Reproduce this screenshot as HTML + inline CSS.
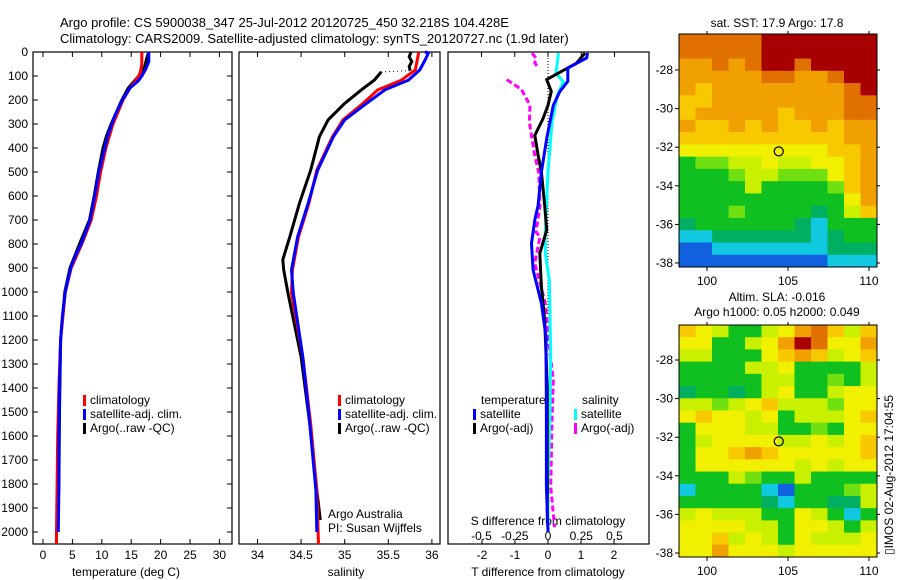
<!DOCTYPE html>
<html><head><meta charset="utf-8"><style>
html,body{margin:0;padding:0;background:#fff;}
svg{display:block;font-family:"Liberation Sans",sans-serif;}
text{font-size:12px;fill:#000;}
</style></head><body>
<svg id="fig" width="900" height="580" viewBox="0 0 900 580" xmlns="http://www.w3.org/2000/svg">
<text x="60" y="27" style="font-size:13px">Argo profile: CS 5900038_347 25-Jul-2012 20120725_450 32.218S 104.428E</text>
<text x="60" y="43" style="font-size:13px">Climatology: CARS2009. Satellite-adjusted climatology: synTS_20120727.nc (1.9d later)</text>
<g id="gT"></g>
<g id="gS"></g>
<g id="gD"></g>
<g id="gM1"></g>
<g id="gM2"></g>
<text x="777" y="27" text-anchor="middle">sat. SST: 17.9 Argo: 17.8</text>
<text x="777" y="301" text-anchor="middle">Altim. SLA: -0.016</text>
<text x="777" y="316" text-anchor="middle">Argo h1000: 0.05 h2000: 0.049</text>
<text transform="translate(893,555) rotate(-90)">▯IMOS 02-Aug-2012 17:04:55</text>
</svg>
<script>
// ---------- profile data (depth, value) ----------
const tempClimDepth = [0,50,80,100,150,200,300,400,500,600,700,800,900,1000,1200,1400,1600,1800,2000,2050];
const tempClimVal   = [16.8,16.8,16.6,16.3,14.8,13.6,11.9,10.7,9.8,9.1,8.2,6.6,4.8,3.8,3.0,2.7,2.5,2.4,2.3,2.3];
const tempSatDepth  = [0,40,70,100,120,150,200,250,300,350,400,500,600,700,800,850,900,1000,1100,1200,1400,1600,1800,2000];
const tempSatVal    = [18.0,18.0,17.5,16.8,16.2,14.8,13.5,12.5,11.7,11.0,10.5,9.5,8.8,8.0,6.5,5.5,4.7,3.8,3.3,3.0,2.8,2.7,2.7,2.6];
const tempArgoDepth = [5,30,60,100,130,150,200,300,350,400,500,600,700,800,900,1000,1200,1500,1800,1950];
const tempArgoVal   = [17.9,17.6,17.3,16.3,15.2,14.5,13.4,11.6,10.8,10.2,9.4,8.7,7.9,6.2,4.6,3.7,3.0,2.8,2.7,2.5];

const salClimDepth = [0,75,117,158,214,283,353,492,631,770,908,1005,1270,1550,1826,2050];
const salClimVal   = [35.85,35.81,35.65,35.38,35.21,34.98,34.86,34.68,34.59,34.47,34.40,34.39,34.52,34.61,34.68,34.70];
const salSatDepth  = [0,4,35,75,117,158,214,283,353,492,631,770,908,1005,1270,1550,1826,2000];
const salSatVal    = [35.92,35.96,35.92,35.86,35.73,35.46,35.25,35.0,34.87,34.69,34.58,34.46,34.39,34.41,34.52,34.60,34.67,34.68];
const salArgoTopDepth = [0,20,40,60,78];
const salArgoTopVal   = [35.76,35.74,35.77,35.74,35.75];
const salArgoDepth = [83,117,158,214,283,353,492,631,770,866,908,1005,1270,1550,1826,1950];
const salArgoVal   = [35.42,35.34,35.19,35.0,34.81,34.71,34.61,34.48,34.37,34.29,34.30,34.35,34.50,34.60,34.68,34.72];

const dTSatDepth = [4,25,67,122,164,222,361,500,639,700,797,908,1047,1186,1500,1811,2000];
const dTSatVal   = [1.2,1.17,0.6,0.6,0.36,0.16,-0.04,-0.2,-0.3,-0.4,-0.5,-0.45,-0.2,-0.06,-0.05,-0.05,0.0];
const dTArgoDepth = [4,46,115,164,222,278,347,430,500,639,742,839,978,1117,1400,1700,1950];
const dTArgoVal   = [1.12,0.87,-0.04,0.1,0.0,-0.15,-0.4,-0.3,-0.2,-0.1,-0.04,-0.25,-0.2,-0.1,-0.02,-0.02,-0.02];
const dSSatDepth = [4,46,88,125,180,292,500,750,839,950,1256,1500,1811,2000];
const dSSatVal   = [0.078,0.07,0.06,0.115,0.07,0.03,0.0,-0.02,-0.02,0.01,0.02,0.015,0.0,0.0];
const dSArgoTopDepth = [5,25,45,60];
const dSArgoTopVal   = [-0.12,-0.09,-0.1,-0.08];
const dSArgoDepth = [115,156,222,292,361,430,500,639,750,770,880,1047,1256,1366,1533,1811,1980];
const dSArgoVal   = [-0.31,-0.2,-0.135,-0.14,-0.12,-0.1,-0.07,-0.06,-0.09,-0.06,-0.1,-0.02,0.015,0.04,0.03,0.02,0.05];

const depthTicks = [0,100,200,300,400,500,600,700,800,900,1000,1100,1200,1300,1400,1500,1600,1700,1800,1900,2000];
const tempTicks = [0,5,10,15,20,25,30];
const salTicks = [34,34.5,35,35.5,36];
const dTTicks = [-2,-1,0,1,2];
const dSTicks = [-0.5,-0.25,0,0.25,0.5];
const dSTickLabels = ["-0.5","-0.25","0","0.25","0.5"];

// ---------- map data (colour index 0..10, rows north->south, cols west->east) ----------
const sstGrid = [
[9,9,9,9,9,10,10,10,10,10,10,10],
[9,9,9,9,9,10,10,10,10,10,10,10],
[8,8,9,8,9,10,10,9,10,10,10,10],
[8,8,8,8,8,9,9,8,8,9,10,10],
[8,7,8,8,8,8,8,8,8,8,9,10],
[7,7,8,8,8,8,8,8,8,8,9,9],
[7,8,8,8,8,8,7,8,8,8,9,9],
[8,7,7,8,7,8,7,7,8,7,8,8],
[7,7,7,7,7,7,7,7,7,7,8,8],
[6,6,6,6,6,6,6,6,6,7,7,8],
[3,4,4,5,5,6,5,5,6,6,7,8],
[3,3,3,4,5,5,4,4,4,6,7,8],
[3,3,3,3,5,3,3,3,3,4,7,8],
[3,3,3,3,3,3,3,3,3,3,6,8],
[3,3,3,4,3,3,3,3,2,3,5,7],
[2,3,3,3,3,3,3,2,1,3,3,3],
[1,1,2,2,2,2,2,2,1,2,3,3],
[0,0,1,1,1,1,1,1,1,2,2,2],
[0,0,0,0,0,0,0,0,0,1,1,1]];
const slaGrid = [
[7,6,5,3,3,5,6,8,9,7,5,7],
[6,6,3,3,5,6,8,10,9,6,6,8],
[5,5,3,3,3,6,7,8,7,5,6,7],
[3,3,3,3,5,5,6,3,3,3,3,5],
[3,3,3,3,3,5,5,3,3,4,3,5],
[2,3,3,2,3,5,6,3,3,5,6,6],
[5,5,4,5,6,7,5,5,5,4,6,6],
[6,7,6,6,5,6,3,5,5,5,6,7],
[3,6,6,6,5,5,3,3,4,3,6,6],
[3,5,6,6,6,6,5,5,6,5,6,7],
[3,6,6,7,8,7,6,6,6,6,6,7],
[3,6,6,6,6,6,6,5,6,5,6,6],
[3,3,3,5,4,3,3,5,3,3,3,3],
[1,3,3,3,3,1,0,3,3,3,4,5],
[3,3,3,3,3,2,1,3,3,2,2,5],
[5,6,5,5,5,3,3,6,5,3,1,3],
[6,6,6,6,5,5,3,6,6,5,3,5],
[6,6,7,5,6,5,3,6,5,5,5,6],
[6,6,8,6,6,6,5,6,6,6,6,6]];
const colorScale = ["#1060e0","#10c8e0","#00b060","#10c020","#70e010","#c8f000","#f0f000","#f8c800","#f0a000","#e07000","#a80000"];
const lonTicks = [100,105,110];
const latTicks = [-28,-30,-32,-34,-36,-38];
const floatLon = 104.428, floatLat = -32.218;

// ---------- helpers ----------
const NS = "http://www.w3.org/2000/svg";
function el(tag, attrs, parent, txt){
  const e = document.createElementNS(NS, tag);
  for (const k in attrs) e.setAttribute(k, attrs[k]);
  if (txt !== undefined) e.textContent = txt;
  parent.appendChild(e);
  return e;
}
const yD = d => 52 + d * 0.24;
const xT = t => 43 + t * 5.88;
const xS = s => 257.5 + (s - 34) * 87.2;
const xDT = v => 548 + v * 33;
const xDS = v => 548 + v * 133;

function line(parent, depths, vals, xf, color, name, dash){
  const pts = depths.map((d,i) => xf(vals[i]).toFixed(1) + "," + yD(d).toFixed(1)).join(" ");
  const p = el("polyline", {points: pts, fill: "none", stroke: color, "stroke-width": 3}, parent);
  if (dash) p.setAttribute("stroke-dasharray", dash);
  
  
}
function frame(parent, x0, x1, name){
  const r = el("rect", {x: x0, y: 52, width: x1 - x0, height: 492, fill: "none", stroke: "#000", "stroke-width": 1.2}, parent);
  
  
}
function legend(parent, x, y, items, name){
  items.forEach((it, i) => {
    const m = el("rect", {x: x, y: y + i * 14 - 9, width: 3, height: 11, fill: it[1]}, parent);
    
    
    const t = el("text", {x: x + 7, y: y + i * 14}, parent, it[0]);
    
    
  });
}

// ---------- temperature panel ----------
const gT = document.getElementById("gT");
frame(gT, 33, 232, "temperature-frame");
depthTicks.forEach(d => {
  const t = el("text", {x: 28, y: yD(d) + 4, "text-anchor": "end"}, gT, String(d));
  
  
  el("line", {x1: 33, x2: 38, y1: yD(d), y2: yD(d), stroke: "#000"}, gT);
  el("line", {x1: 227, x2: 232, y1: yD(d), y2: yD(d), stroke: "#000"}, gT);
});
tempTicks.forEach(v => {
  el("line", {x1: xT(v), x2: xT(v), y1: 544, y2: 539, stroke: "#000"}, gT);
  el("line", {x1: xT(v), x2: xT(v), y1: 52, y2: 57, stroke: "#000"}, gT);
  const t = el("text", {x: xT(v), y: 559, "text-anchor": "middle"}, gT, String(v));
  
  
});
const tl = el("text", {x: 126, y: 576, "text-anchor": "middle"}, gT, "temperature (deg C)");


line(gT, tempArgoDepth, tempArgoVal, xT, "#000", "temperature-argo-line");
line(gT, tempClimDepth, tempClimVal, xT, "#f00", "temperature-climatology-line");
line(gT, tempSatDepth, tempSatVal, xT, "#00f", "temperature-satellite-line");
legend(gT, 83, 404, [["climatology","#f00"],["satellite-adj. clim.","#00f"],["Argo(..raw -QC)","#000"]], "temperature-legend");

// ---------- salinity panel ----------
const gS = document.getElementById("gS");
frame(gS, 239, 440, "salinity-frame");
salTicks.forEach(v => {
  el("line", {x1: xS(v), x2: xS(v), y1: 544, y2: 539, stroke: "#000"}, gS);
  el("line", {x1: xS(v), x2: xS(v), y1: 52, y2: 57, stroke: "#000"}, gS);
  const t = el("text", {x: xS(v), y: 559, "text-anchor": "middle"}, gS, String(v));
  
  
});
const sl = el("text", {x: 346, y: 576, "text-anchor": "middle"}, gS, "salinity");


el("line", {x1: xS(salArgoTopVal[4]), y1: yD(78), x2: xS(salArgoVal[0]), y2: yD(83), stroke: "#000", "stroke-dasharray": "1,3"}, gS);
line(gS, salArgoTopDepth, salArgoTopVal, xS, "#000", "salinity-argo-top-line");
line(gS, salArgoDepth, salArgoVal, xS, "#000", "salinity-argo-line");
line(gS, salClimDepth, salClimVal, xS, "#f00", "salinity-climatology-line");
line(gS, salSatDepth, salSatVal, xS, "#00f", "salinity-satellite-line");
legend(gS, 338, 404, [["climatology","#f00"],["satellite-adj. clim.","#00f"],["Argo(..raw -QC)","#000"]], "salinity-legend");
const a1 = el("text", {x: 328, y: 518}, gS, "Argo Australia");


const a2 = el("text", {x: 328, y: 532}, gS, "PI: Susan Wijffels");



// ---------- difference panel ----------
const gD = document.getElementById("gD");
frame(gD, 448, 649, "difference-frame");
el("line", {x1: 548, x2: 548, y1: 52, y2: yD(1100), stroke: "#000", "stroke-dasharray": "1,2"}, gD);
dTTicks.forEach(v => {
  el("line", {x1: xDT(v), x2: xDT(v), y1: 544, y2: 539, stroke: "#000"}, gD);
  const t = el("text", {x: xDT(v), y: 559, "text-anchor": "middle"}, gD, String(v));
  
  
});
dSTicks.forEach((v, i) => {
  el("line", {x1: xDS(v), x2: xDS(v), y1: 52, y2: 57, stroke: "#000"}, gD);
  const t = el("text", {x: xDS(v), y: 540, "text-anchor": "middle"}, gD, dSTickLabels[i]);
  
  
});
const dl = el("text", {x: 548, y: 576, "text-anchor": "middle"}, gD, "T difference from climatology");


const dsl = el("text", {x: 548, y: 525, "text-anchor": "middle"}, gD, "S difference from climatology");


line(gD, dSArgoTopDepth, dSArgoTopVal, xDS, "#f0f", "ds-argo-top-line", "6,3");
line(gD, dSArgoDepth, dSArgoVal, xDS, "#f0f", "ds-argo-line", "6,3");
line(gD, dSSatDepth, dSSatVal, xDS, "#0ff", "ds-satellite-line");
line(gD, dTArgoDepth, dTArgoVal, xDT, "#000", "dt-argo-line");
line(gD, dTSatDepth, dTSatVal, xDT, "#00f", "dt-satellite-line");
const lt = el("text", {x: 481, y: 404}, gD, "temperature");


legend(gD, 473, 418, [["satellite","#00f"],["Argo(-adj)","#000"]], "dt-legend");
const ls = el("text", {x: 582, y: 404}, gD, "salinity");


legend(gD, 574, 418, [["satellite","#0ff"],["Argo(-adj)","#f0f"]], "ds-legend");

// ---------- maps ----------
function drawMap(g, grid, top, bottom, latY0, name){
  const left = 679, right = 877;
  const rows = grid.length, cols = grid[0].length;
  const cw = (right - left) / cols, ch = (bottom - top) / rows;
  grid.forEach((row, r) => row.forEach((v, c) => {
    const cell = el("rect", {x: (left + c * cw).toFixed(2), y: (top + r * ch).toFixed(2), width: (cw + 0.4).toFixed(2), height: (ch + 0.4).toFixed(2), fill: colorScale[v]}, g);
    
    
  }));
  const lonX = lon => 707 + (lon - 100) * 16.2;
  const latY = lat => latY0 + (-28 - lat) * 19.3;
  el("rect", {x: left, y: top, width: right - left, height: bottom - top, fill: "none", stroke: "#000"}, g);
  lonTicks.forEach(v => {
    el("line", {x1: lonX(v), x2: lonX(v), y1: bottom, y2: bottom + 4, stroke: "#000"}, g);
    el("line", {x1: lonX(v), x2: lonX(v), y1: top, y2: top - 3, stroke: "#000"}, g);
    const t = el("text", {x: lonX(v), y: bottom + 18, "text-anchor": "middle"}, g, String(v));
    
    
  });
  latTicks.forEach(v => {
    el("line", {x1: left, x2: left - 4, y1: latY(v), y2: latY(v), stroke: "#000"}, g);
    el("line", {x1: right, x2: right + 3, y1: latY(v), y2: latY(v), stroke: "#000"}, g);
    const t = el("text", {x: left - 6, y: latY(v) + 4, "text-anchor": "end"}, g, String(v));
    
    
  });
  const c = el("circle", {cx: lonX(floatLon), cy: latY(floatLat), r: 4.5, fill: "none", stroke: "#000", "stroke-width": 1.2}, g);
  
  
}
drawMap(document.getElementById("gM1"), sstGrid, 34, 267, 70, "sst-map");
drawMap(document.getElementById("gM2"), slaGrid, 325, 557, 360, "sla-map");
</script>
</body></html>
